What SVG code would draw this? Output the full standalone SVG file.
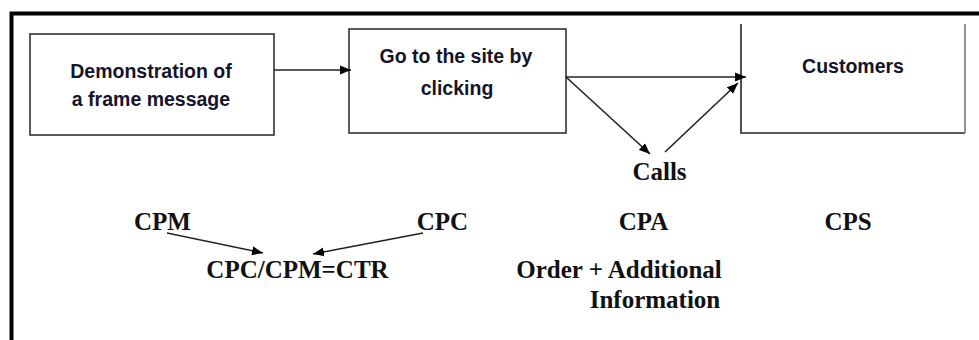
<svg xmlns="http://www.w3.org/2000/svg" width="979" height="340" viewBox="0 0 979 340">
  <style>
    .box { fill: #fff; stroke: #333; stroke-width: 1.6; }
    .btxt { font-family: "Liberation Sans", Arial, sans-serif; font-weight: bold; font-size: 19.5px; fill: #14142a; text-anchor: middle; }
    .stxt { font-family: "Liberation Serif", "Times New Roman", serif; font-weight: bold; font-size: 25px; fill: #111; text-anchor: middle; }
    .conn { stroke: #222; stroke-width: 1.6; fill: none; marker-end: url(#arr); }
  </style>
  <defs>
    <marker id="arr" markerUnits="userSpaceOnUse" markerWidth="12" markerHeight="10" refX="11" refY="5" orient="auto">
      <path d="M0,0.5 L11,5 L0,9.5 z" fill="#000"/>
    </marker>
  </defs>
  <rect width="979" height="340" fill="#fff"/>
  <g id="frame">
    <path d="M11.5,340 V13.5 H979" fill="none" stroke="#000" stroke-width="4"/>
  </g>
  <g id="node-demo">
    <rect class="box" x="30" y="34" width="244" height="101"/>
    <text class="btxt" x="151" y="78">Demonstration of</text>
    <text class="btxt" x="151" y="106">a frame message</text>
  </g>
  <g id="node-site">
    <rect class="box" x="349" y="29" width="217" height="104"/>
    <text class="btxt" x="456" y="63">Go to the site by</text>
    <text class="btxt" x="457" y="95">clicking</text>
  </g>
  <g id="node-customers">
    <path d="M741,24 V133 H965" fill="none" stroke="#222" stroke-width="1.6"/>
    <path d="M965,133 V24" fill="none" stroke="#888" stroke-width="1.8"/>
    <text class="btxt" x="853" y="73">Customers</text>
  </g>
  <g id="node-calls"><text class="stxt" x="659.5" y="180">Calls</text></g>
  <g id="node-cpm"><text class="stxt" x="162.5" y="230">CPM</text></g>
  <g id="node-cpc"><text class="stxt" x="442.5" y="230">CPC</text></g>
  <g id="node-ctr"><text class="stxt" x="297.5" y="278">CPC/CPM=CTR</text></g>
  <g id="node-cpa"><text class="stxt" x="643.5" y="230">CPA</text></g>
  <g id="node-cps"><text class="stxt" x="848" y="230">CPS</text></g>
  <g id="node-order">
    <text class="stxt" x="619" y="278">Order + Additional</text>
    <text class="stxt" x="655" y="308">Information</text>
  </g>
  <g id="connectors">
    <line class="conn" x1="274" y1="70" x2="351" y2="70"/>
    <line class="conn" x1="566" y1="77" x2="746" y2="77"/>
    <line class="conn" x1="566" y1="77" x2="650" y2="154"/>
    <line class="conn" x1="665" y1="152" x2="738" y2="83"/>
    <line class="conn" x1="167" y1="233" x2="263" y2="253"/>
    <line class="conn" x1="423" y1="233" x2="313" y2="254"/>
  </g>
</svg>
